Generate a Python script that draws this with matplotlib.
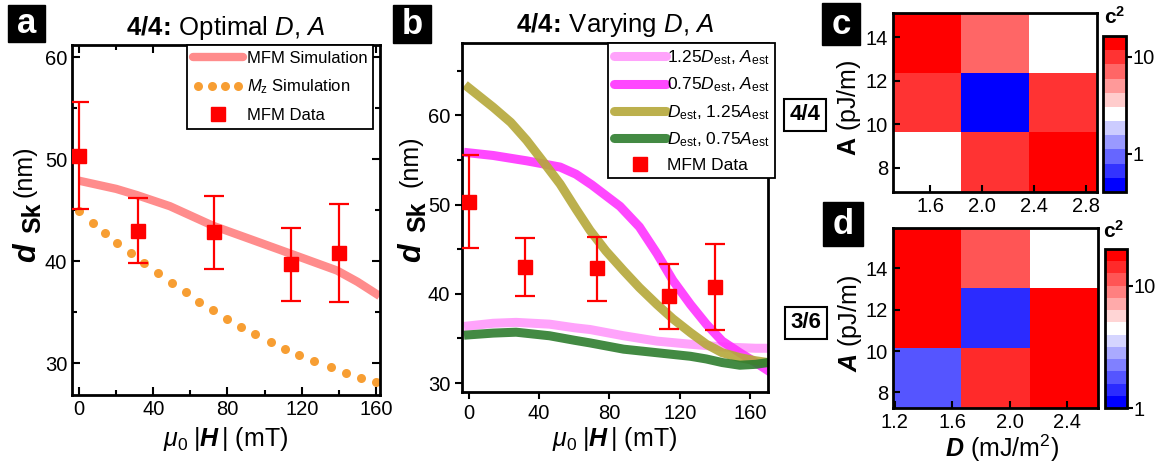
import numpy as np
import matplotlib
matplotlib.use('Agg')
import matplotlib.pyplot as plt
from matplotlib.lines import Line2D
from matplotlib.legend_handler import HandlerLine2D
from matplotlib.colors import LogNorm
from matplotlib.patches import Rectangle
from matplotlib.ticker import MultipleLocator, FixedLocator, NullLocator

plt.rcParams['font.family'] = ['Liberation Sans', 'DejaVu Sans']
plt.rcParams['mathtext.fontset'] = 'custom'
plt.rcParams['mathtext.rm'] = 'Liberation Sans'
plt.rcParams['mathtext.it'] = 'Liberation Sans:italic'
plt.rcParams['mathtext.bf'] = 'Liberation Sans:bold'
plt.rcParams['mathtext.bfit'] = 'Liberation Sans:bold:italic'

# ---------------- data ----------------
field_data = [0, 32, 73, 114, 140]
d_data = [50.3, 43.0, 42.9, 39.7, 40.8]
d_err_low = [45.1, 39.8, 39.2, 36.1, 36.0]
d_err_high = [55.6, 46.2, 46.4, 43.3, 45.6]

mfm_sim_field = [0, 20, 31, 49, 72, 94, 114, 139, 150, 162]
mfm_sim_d = [47.9, 47.1, 46.5, 45.4, 43.5, 42.06, 40.75, 39.1, 38.0, 36.6]

mz_field = [0, 7.5, 14, 20.7, 28, 35, 42.7, 49.9, 57.4, 64.8, 72.3, 79.8, 87.2, 94.6,
            103.3, 110.9, 118.7, 126.8, 135.6, 143.7, 151.9, 159.8]
mz_d = [44.9, 43.8, 42.8, 41.8, 40.8, 39.8, 38.85, 37.9, 37.0, 36.05, 35.2, 34.3, 33.6, 32.9,
        32.1, 31.4, 30.8, 30.2, 29.6, 29.1, 28.6, 28.2]

f_125D = [0, 14, 27, 46, 60, 69, 88, 107, 126, 144, 163, 170]
d_125D = [36.4, 36.7, 36.8, 36.6, 36.2, 36.0, 35.3, 34.7, 34.35, 34.05, 33.9, 33.9]
f_075D = [0, 14, 33, 52, 61, 70, 78, 86, 97, 107, 116, 126, 135, 144, 154, 163, 170]
d_075D = [55.8, 55.5, 54.9, 54.2, 53.4, 52.2, 51.0, 49.8, 47.5, 44.5, 41.5, 38.8, 36.6, 34.7, 33.4, 32.3, 31.4]
f_125A = [0, 14, 24, 33, 42, 52, 61, 69, 78, 88, 97, 107, 116, 126, 135, 144, 154, 163, 170]
d_125A = [63.1, 60.9, 59.2, 57.2, 54.9, 52.3, 49.5, 47.1, 44.8, 42.6, 40.7, 38.8, 37.2, 35.65, 34.35, 33.4, 32.85, 32.5, 32.3]
f_075A = [0, 14, 27, 46, 60, 69, 88, 107, 126, 135, 144, 154, 163, 170]
d_075A = [35.4, 35.6, 35.7, 35.3, 34.8, 34.5, 33.8, 33.4, 33.0, 32.7, 32.3, 32.0, 32.1, 32.3]

# chi^2 maps (rows: A low -> high, cols: D low -> high)
D_c = [1.575, 2.1, 2.625]
A_c = [8.25, 11.0, 13.75]
chi2_c = [[2.5, 10, 14],
          [10, 0.5, 10],
          [14, 7, 2.5]]

D_d = [1.425, 1.9, 2.375]
A_d = [8.7, 11.6, 14.5]
chi2_d = [[1.8, 14, 18],
          [18, 1.4, 18],
          [18, 11, 4.5]]

# ---------------- figure ----------------
W, H = 1167, 468
fig = plt.figure(figsize=(W / 100, H / 100), dpi=100)


def px_axes(x0, y0, x1, y1):
    return fig.add_axes([x0 / W, 1 - y1 / H, (x1 - x0) / W, (y1 - y0) / H])


def fx(x):
    return x / W


def fy(y):
    return 1 - y / H


TICK_FS = 14.5
LAB_FS = 18
TITLE_FS = 18.5

axA = px_axes(72, 45, 380, 395)
axB = px_axes(462, 43, 768, 392)
axC = px_axes(893, 13, 1097, 192)
axD = px_axes(893, 228, 1098, 408)
caxC = px_axes(1103, 36, 1126, 192)
caxD = px_axes(1105, 249, 1127, 408)

for ax in (axA, axB, axC, axD, caxC, caxD):
    for sp in ax.spines.values():
        sp.set_linewidth(2.0)

red = '#ff0000'
yerr = [np.array(d_data) - np.array(d_err_low), np.array(d_err_high) - np.array(d_data)]

# ---- panel a ----
axA.plot(mfm_sim_field, mfm_sim_d, color='#ff8c8c', lw=6, solid_capstyle='butt',
         solid_joinstyle='round', zorder=2)
axA.plot(mz_field, mz_d, 'o', color='#f7941d', ms=6.5, mec='none', alpha=0.9, zorder=2)
axA.errorbar(field_data, d_data, yerr=yerr, fmt='s', color=red, ms=9.5, elinewidth=1.6,
             capsize=7, capthick=1.6, zorder=3)
axA.set_xlim(-3.8, 162.2)
axA.set_ylim(26.9, 61.2)
axA.xaxis.set_major_locator(MultipleLocator(40))
axA.xaxis.set_minor_locator(MultipleLocator(20))
axA.yaxis.set_major_locator(MultipleLocator(10))
axA.yaxis.set_minor_locator(MultipleLocator(5))
axA.tick_params(which='both', direction='in', top=True, right=True, width=1.5, labelsize=TICK_FS)
axA.tick_params(which='major', length=6)
axA.tick_params(which='minor', length=3.5)
axA.set_xlabel(r'$\mu_0\;|\mathbfit{H}\,|$ (mT)', fontsize=LAB_FS)
axA.xaxis.set_label_coords(0.5, -0.085)
axA.set_title(r'$\mathbf{4/4}\!\mathbf{:}\!$ Optimal $D$, $A$', fontsize=TITLE_FS, pad=7)

hA1 = Line2D([], [], color='#ff8c8c', lw=6, solid_capstyle='round')
hA2 = Line2D([], [], color='#f7941d', marker='o', ls='none', ms=6.5, mec='none', alpha=0.9)
hA3 = Line2D([], [], color=red, marker='s', ls='none', ms=9.5)
legA = axA.legend([hA1, hA2, hA3], ['MFM Simulation', r'$M_{\rm z}$ Simulation', 'MFM Data'],
                  handler_map={hA2: HandlerLine2D(numpoints=4)},
                  loc='upper right', bbox_to_anchor=(fx(373), fy(45)),
                  bbox_transform=fig.transFigure, fontsize=12, frameon=True,
                  fancybox=False, framealpha=1, edgecolor='black', borderpad=0.35,
                  handlelength=3.0, handletextpad=0.2, labelspacing=0.7, borderaxespad=0)
legA.get_frame().set_linewidth(1.3)

# ---- panel b ----
c_pink = '#ff99fb'
c_mag = '#ff33ff'
c_olive = '#b5a83a'
c_green = '#2e7d2e'
for fv, dv, c in ((f_125D, d_125D, c_pink), (f_075D, d_075D, c_mag),
                  (f_125A, d_125A, c_olive), (f_075A, d_075A, c_green)):
    axB.plot(fv, dv, color=c, lw=6.5, alpha=0.9, solid_joinstyle='round', zorder=2)
axB.errorbar(field_data, d_data, yerr=yerr, fmt='s', color=red, ms=9.5, elinewidth=1.6,
             capsize=7, capthick=1.6, zorder=3)
axB.set_xlim(-3.7, 170)
axB.set_ylim(29.0, 68.1)
axB.xaxis.set_major_locator(MultipleLocator(40))
axB.yaxis.set_major_locator(MultipleLocator(10))
axB.yaxis.set_minor_locator(MultipleLocator(5))
axB.tick_params(which='both', direction='out', width=1.5, labelsize=TICK_FS)
axB.tick_params(which='major', length=5)
axB.tick_params(which='minor', length=3.5)
axB.set_xlabel(r'$\mu_0\;|\mathbfit{H}\,|$ (mT)', fontsize=LAB_FS)
axB.xaxis.set_label_coords(0.5, -0.095)
axB.set_title(r'$\mathbf{4/4}\!\mathbf{:}\!$ Varying $D$, $A$', fontsize=TITLE_FS, pad=8)

hB = [Line2D([], [], color=c, lw=6.5, alpha=0.9, solid_capstyle='round')
      for c in (c_pink, c_mag, c_olive, c_green)]
hB.append(Line2D([], [], color=red, marker='s', ls='none', ms=9.5))
labsB = [r'1.25$D_{\rm est}$, $A_{\rm est}$', r'0.75$D_{\rm est}$, $A_{\rm est}$',
         r'$D_{\rm est}$, 1.25$A_{\rm est}$', r'$D_{\rm est}$, 0.75$A_{\rm est}$', 'MFM Data']
legB = axB.legend(hB, labsB, loc='upper right', bbox_to_anchor=(fx(775), fy(43)),
                  bbox_transform=fig.transFigure, fontsize=12.5, frameon=True,
                  fancybox=False, framealpha=1, edgecolor='black', borderpad=0.3,
                  handlelength=3.0, handletextpad=0.1, labelspacing=0.5, borderaxespad=0)
legB.get_frame().set_linewidth(1.3)


# ---- composed y labels for a, b ----
def dsk_label(xd, yd, xs, ys, xn, yn):
    kw = dict(rotation=90, rotation_mode='anchor', ha='left', va='baseline')
    fig.text(fx(xd), fy(yd), 'd', fontsize=22, fontweight='bold', fontstyle='italic', **kw)
    fig.text(fx(xs), fy(ys), 'Sk', fontsize=18, fontweight='bold', **kw)
    fig.text(fx(xn), fy(yn), '(nm)', fontsize=18, **kw)


dsk_label(35, 262, 40, 233, 32, 197)
dsk_label(420, 262, 425, 232, 417, 187)


# ---- panels c, d ----
def heat(ax, cax, Dv, Av, Z, vmin, vmax, nlev, xticks, ylab, ylab_x):
    norm = LogNorm(vmin=vmin, vmax=vmax)
    cmap = plt.get_cmap('bwr', nlev)
    m = ax.pcolormesh(Dv, Av, np.array(Z), cmap=cmap, norm=norm, shading='nearest')
    dx = (Dv[1] - Dv[0]) / 2
    dy = (Av[1] - Av[0]) / 2
    ax.set_xlim(Dv[0] - dx, Dv[-1] + dx)
    ax.set_ylim(Av[0] - dy, Av[-1] + dy)
    ax.xaxis.set_major_locator(FixedLocator(xticks))
    ax.set_xticklabels([f'{t:.1f}' for t in xticks])
    ax.yaxis.set_major_locator(FixedLocator([8, 10, 12, 14]))
    ax.tick_params(direction='in', length=5, width=1.5, labelsize=TICK_FS)
    ax.set_ylabel(ylab, fontsize=LAB_FS)
    ax.yaxis.set_label_coords(ylab_x, 0.47)
    cb = fig.colorbar(m, cax=cax)
    cb.outline.set_linewidth(2.0)
    cb.set_ticks([1, 10])
    cb.set_ticklabels(['1', '10'])
    cax.yaxis.set_minor_locator(NullLocator())
    cax.tick_params(length=4, width=1.5, labelsize=TICK_FS, pad=1)
    return cb


heat(axC, caxC, D_c, A_c, chi2_c, 0.4, 16.4, 11, [1.6, 2.0, 2.4, 2.8],
     r'$\mathbf{A}$ (pJ/m)', -0.145)
heat(axD, caxD, D_d, A_d, chi2_d, 1.0, 20.0, 13, [1.2, 1.6, 2.0, 2.4],
     r'$\mathbfit{A}$ (pJ/m)', -0.14)
axD.set_xlabel(r'$\mathbfit{D}$ (mJ/m$^2$)', fontsize=LAB_FS)
axD.xaxis.set_label_coords(0.53, -0.135)

fig.text(fx(1115), fy(17), r'$\mathbf{c^2}$', ha='center', va='center', fontsize=15)
fig.text(fx(1114), fy(231), r'$\mathbf{c^2}$', ha='center', va='center', fontsize=15)


# ---- panel letters ----
def letter(x0, y0, x1, y1, s):
    fig.patches.append(Rectangle((fx(x0), fy(y1)), (x1 - x0) / W, (y1 - y0) / H,
                                 transform=fig.transFigure, color='black', zorder=5))
    fig.text((x0 + x1) / 2 / W, fy((y0 + y1) / 2), s, color='white', ha='center',
             va='center', fontsize=25, fontweight='bold', zorder=6)


letter(8, 5, 45, 42, 'a')
letter(393, 5, 431, 43, 'b')
letter(822, 3, 860, 45, 'c')
letter(823, 202, 863, 246, 'd')

for (cx, cy, s) in [(805, 115, '4/4'), (806, 323, '3/6')]:
    fig.text(fx(cx), fy(cy), s, ha='center', va='center', fontsize=16, fontweight='bold',
             bbox=dict(boxstyle='square,pad=0.25', fc='white', ec='black', lw=1.5))

fig.savefig('out.png', dpi=100)
